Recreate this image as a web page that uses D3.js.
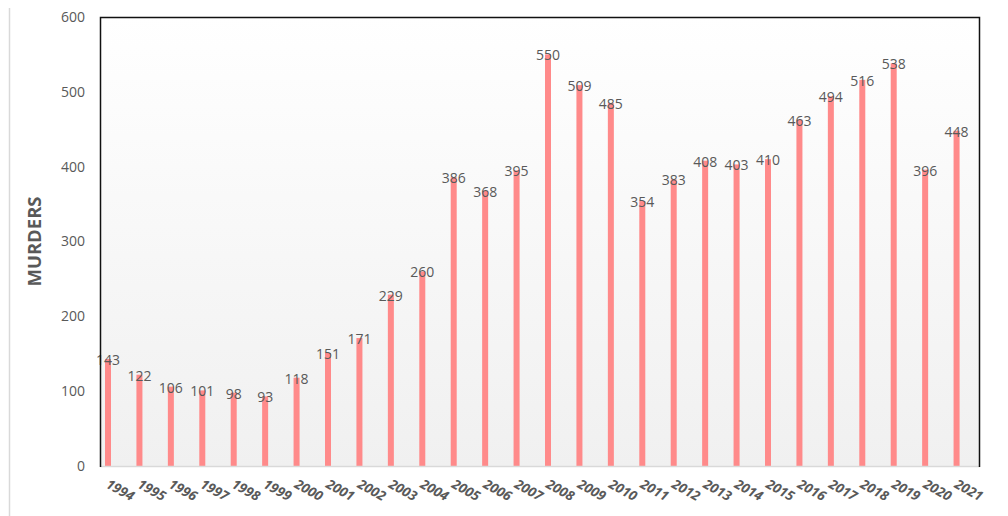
<!DOCTYPE html>
<html>
<head>
<meta charset="utf-8">
<script src="https://cdn.jsdelivr.net/npm/d3@7"></script>
<style>
  body { margin: 0; background: #fff; }
  text { font-family: "Open Sans", "DejaVu Sans", sans-serif; fill: #595959; }
</style>
</head>
<body>
<svg width="1008" height="516"></svg>
<script>
var years = ["1994","1995","1996","1997","1998","1999","2000","2001","2002","2003","2004","2005","2006","2007",
             "2008","2009","2010","2011","2012","2013","2014","2015","2016","2017","2018","2019","2020","2021"];
var murders = [143,122,106,101,98,93,118,151,171,229,260,386,368,395,
               550,509,485,354,383,408,403,410,463,494,516,538,396,448];
var yTicks = [0,100,200,300,400,500,600];

var svg = d3.select("svg"),
    margin = {top: 17, right: 28, bottom: 50, left: 100},
    width = +svg.attr("width") - margin.left - margin.right,
    height = +svg.attr("height") - margin.top - margin.bottom;

var defs = svg.append("defs");
var grad = defs.append("linearGradient").attr("id", "bg")
    .attr("x1", 0).attr("y1", 0).attr("x2", 0).attr("y2", 1);
grad.append("stop").attr("offset", "0%").attr("stop-color", "#ffffff");
grad.append("stop").attr("offset", "100%").attr("stop-color", "#f0f0f0");

// faint vertical rule on the far left
svg.append("line")
    .attr("x1", 9.5).attr("x2", 9.5).attr("y1", 8).attr("y2", 516)
    .attr("stroke", "#d9d9d9").attr("stroke-width", 1.5);

var g = svg.append("g").attr("transform", "translate(" + margin.left + "," + margin.top + ")");

var x = d3.scaleBand().domain(years).range([0, width]);
var y = d3.scaleLinear().domain([0, 600]).range([height, 0]);

g.append("rect")
    .attr("width", width).attr("height", height)
    .attr("fill", "url(#bg)");

var barW = 6, barOff = 5;

g.selectAll(".bar")
    .data(murders)
  .enter().append("rect")
    .attr("class", "bar")
    .attr("x", function(d, i) { return x(years[i]) + barOff; })
    .attr("y", function(d) { return y(d); })
    .attr("width", barW)
    .attr("height", function(d) { return height - y(d); })
    .attr("fill", "#ff8a8a");

g.selectAll(".lbl")
    .data(murders)
  .enter().append("text")
    .attr("class", "lbl")
    .attr("x", function(d, i) { return x(years[i]) + barOff + barW / 2; })
    .attr("y", function(d) { return y(d) + 6; })
    .attr("text-anchor", "middle")
    .style("font-size", "14px")
    .text(function(d) { return d; });

// frame: left, top, right black; bottom gray
g.append("line").attr("x1", 0).attr("x2", width).attr("y1", height + 0.5).attr("y2", height + 0.5)
    .attr("stroke", "#d9d9d9").attr("stroke-width", 1.5);
g.append("path")
    .attr("d", "M0.5," + (height + 1) + "V0.5H" + (width - 0.5) + "V" + (height + 1))
    .attr("fill", "none").attr("stroke", "#111").attr("stroke-width", 1.5);

// y axis labels
g.selectAll(".ytick")
    .data(yTicks)
  .enter().append("text")
    .attr("class", "ytick")
    .attr("x", -15)
    .attr("y", function(d) { return y(d); })
    .attr("dy", "0.35em")
    .attr("text-anchor", "end")
    .style("font-size", "14px")
    .text(function(d) { return d; });

// x axis labels, bold italic, slanted
g.selectAll(".xtick")
    .data(years)
  .enter().append("text")
    .attr("class", "xtick")
    .attr("transform", function(d) {
      return "translate(" + (x(d) + barOff) + "," + (height + 21) + ") rotate(29)";
    })
    .attr("text-anchor", "start")
    .style("font-size", "13.5px")
    .style("font-weight", "bold")
    .style("font-style", "italic")
    .text(function(d) { return d; });

svg.append("text")
    .attr("transform", "translate(41," + (margin.top + height / 2) + ") rotate(-90)")
    .attr("text-anchor", "middle")
    .style("font-size", "18.5px")
    .style("font-weight", "bold")
    .text("MURDERS");
</script>
</body>
</html>
